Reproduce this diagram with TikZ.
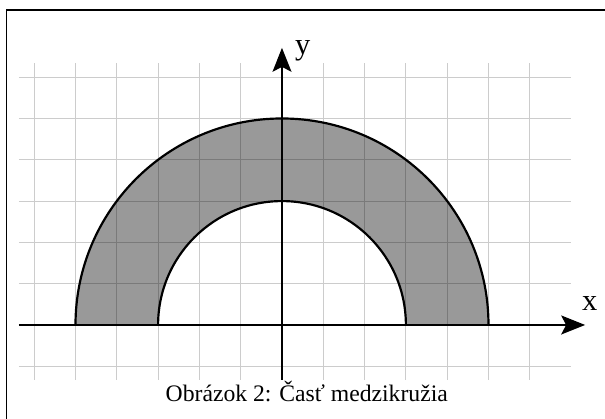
\documentclass[tikz,border=0pt]{standalone}
\usepackage{fontspec}
\setmainfont{Liberation Serif}
\usetikzlibrary{arrows.meta, positioning}

\tikzset{
  mriezka/.style={draw=gray!40, line width=0.7pt},
  osa/.style={line width=1.1pt, -{Stealth[length=5.8mm, width=4.6mm, inset=1.2mm]}},
  kruh/.style={line width=1.5pt},
  popis/.style={inner sep=0pt, anchor=base west, font=\fontsize{21}{24}\selectfont}
}

\begin{document}
\begin{tikzpicture}

\useasboundingbox (-6.828,-2.276) rectangle (7.821,7.869);
\clip (-6.828,-2.276) rectangle (7.821,7.869);

% Ramik
\draw[line width=0.8pt] (-6.67,-3) -- (-6.67,7.627) -- (9,7.627);

% Mriezka
\foreach \y in {-1,...,6}
  \draw[mriezka] (-6.37,\y) -- (7,\y);
\foreach \x in {-6,...,6}
  \draw[mriezka] (\x,-1.33) -- (\x,6.34);

% Medzikruzie
\fill[black, fill opacity=0.4] (5,0) arc (0:180:5) -- (-3,0) arc (180:0:3) -- cycle;

% Osi
\coordinate (xzac) at (-6.37,0);
\coordinate (xkon) at (7.34,0);
\coordinate (yzac) at (0,-1.33);
\coordinate (ykon) at (0,6.71);
\draw[osa] (xzac) -- (xkon);
\draw[osa] (yzac) -- (ykon);
\node[popis] (xlab) at (7.26,0.34) {x};
\node[popis] (ylab) at (0.31,6.56) {y};

% Hranice
\draw[kruh] (5,0) arc (0:180:5);
\draw[kruh] (3,0) arc (0:180:3);

% Popis obrazka
\node[inner sep=0pt, anchor=base, font=\fontsize{16.3}{19}\selectfont] (nazov) at (0.6,-1.864)
  {Obrázok 2: Časť medzikružia};

\end{tikzpicture}
\end{document}
